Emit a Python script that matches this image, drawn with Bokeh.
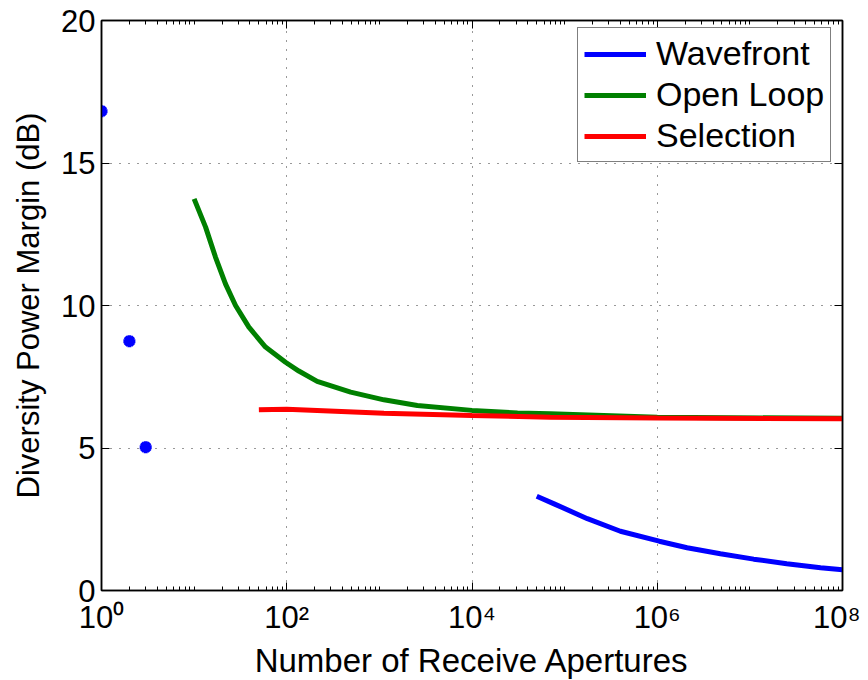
from bokeh.plotting import figure
from bokeh.models import FixedTicker, LogAxis, LinearAxis, Legend, LegendItem, Range1d
from bokeh.embed import file_html
from bokeh.resources import INLINE

# ---- data ----
wavefront_pts_n = [1, 2, 3]
wavefront_pts_db = [16.82, 8.75, 5.03]

wavefront_n = [5e4, 7.7e4, 1.76e5, 4.0e5, 1.05e6, 2.1e6, 4.8e6, 1.1e7, 2.5e7, 5.8e7, 1e8]
wavefront_db = [3.31, 3.04, 2.52, 2.08, 1.73, 1.50, 1.29, 1.10, 0.94, 0.80, 0.73]

openloop_n = [10, 13.3, 17, 21.8, 28, 39, 59, 97, 135, 213, 490, 1120, 2570,
              1e4, 3.1e4, 7e4, 1e6, 1e8]
openloop_db = [13.74, 12.75, 11.7, 10.76, 10.0, 9.24, 8.54, 8.01, 7.70, 7.34,
               6.96, 6.69, 6.49, 6.32, 6.23, 6.20, 6.08, 6.04]

selection_n = [50, 100, 213, 1120, 1e4, 7e4, 1e6, 1e8]
selection_db = [6.34, 6.36, 6.32, 6.22, 6.14, 6.08, 6.05, 6.03]

x_ticks = [1, 1e2, 1e4, 1e6, 1e8]
x_tick_labels = ["10\u2070", "10\u00b2", "10\u2074", "10\u2076", "10\u2078"]
y_ticks = [0, 5, 10, 15, 20]

FONT = "Liberation Sans"

p = figure(frame_width=741, frame_height=570, x_axis_type="log",
           x_range=Range1d(1, 1e8), y_range=Range1d(0, 20),
           output_backend="svg", toolbar_location=None,
           min_border_left=101, min_border_top=20, min_border_right=18,
           min_border_bottom=80)
p.background_fill_color = "white"
p.border_fill_color = "white"
p.outline_line_color = "black"
p.outline_line_width = 1.5

minor = []
for d in range(0, 8):
    for m in range(1, 10):
        v = m * 10 ** d
        if v not in x_ticks:
            minor.append(v)

xt = FixedTicker(ticks=x_ticks, minor_ticks=minor)
yt = FixedTicker(ticks=y_ticks, minor_ticks=[])

xa = p.xaxis[0]
xa.ticker = xt
xa.major_label_overrides = {t: l for t, l in zip(x_ticks, x_tick_labels)}
ya = p.yaxis[0]
ya.ticker = yt

for ax in (xa, ya):
    ax.major_tick_in = 8
    ax.major_tick_out = 0
    ax.minor_tick_in = 4
    ax.minor_tick_out = 0
    ax.axis_line_color = "black"
    ax.axis_line_width = 1.5
    ax.major_tick_line_color = "black"
    ax.minor_tick_line_color = "black"
    ax.major_label_text_font = FONT
    ax.major_label_text_font_size = "31px"
    ax.major_label_text_color = "black"
    ax.axis_label_text_font = FONT
    ax.axis_label_text_font_style = "normal"
    ax.axis_label_text_color = "black"

xa.axis_label = "Number of Receive Apertures"
xa.axis_label_text_font_size = "33px"
xa.major_label_standoff = 9
xa.axis_label_standoff = 4
ya.axis_label = "Diversity Power Margin (dB)"
ya.axis_label_text_font_size = "31px"
ya.major_label_standoff = 6
ya.axis_label_standoff = 12

# box axes (top/right) with inward ticks, no labels
top = LogAxis(ticker=FixedTicker(ticks=x_ticks, minor_ticks=minor))
top.major_label_overrides = {t: "" for t in x_ticks}
right = LinearAxis(ticker=FixedTicker(ticks=y_ticks, minor_ticks=[]))
right.major_label_overrides = {t: "" for t in y_ticks}
for ax in (top, right):
    ax.major_tick_in = 8
    ax.major_tick_out = 0
    ax.minor_tick_in = 4
    ax.minor_tick_out = 0
    ax.axis_line_color = "black"
    ax.axis_line_width = 1.5
    ax.major_label_text_font_size = "1px"
    ax.major_label_standoff = 0
p.add_layout(top, "above")
p.add_layout(right, "right")

p.xgrid.ticker = xt
p.ygrid.ticker = yt
for g in (p.xgrid[0], p.ygrid[0]):
    g.grid_line_color = "black"
    g.grid_line_alpha = 0.8
    g.grid_line_width = 1
    g.grid_line_dash = "1 8"

rw = p.line(wavefront_n, wavefront_db, line_color="#0000ff", line_width=5)
p.scatter(wavefront_pts_n, wavefront_pts_db, marker="asterisk", size=12,
          line_color="#0000ff", line_width=4)
rg = p.line(openloop_n, openloop_db, line_color="#008000", line_width=5)
rr = p.line(selection_n, selection_db, line_color="#ff0000", line_width=5)

legend = Legend(items=[
    LegendItem(label="Wavefront", renderers=[rw]),
    LegendItem(label="Open Loop", renderers=[rg]),
    LegendItem(label="Selection", renderers=[rr]),
], location=(476, 428))
legend.label_text_font = FONT
legend.label_text_font_size = "34px"
legend.label_text_line_height = 1.0
legend.label_text_color = "black"
legend.glyph_width = 62
legend.glyph_height = 30
legend.label_height = 30
legend.label_standoff = 10
legend.spacing = 2
legend.padding = 6
legend.margin = 0
legend.border_line_color = "black"
legend.border_line_width = 1.5
legend.background_fill_color = "white"
legend.background_fill_alpha = 1
p.add_layout(legend, "center")

open("out.html", "w").write(file_html(p, INLINE))
